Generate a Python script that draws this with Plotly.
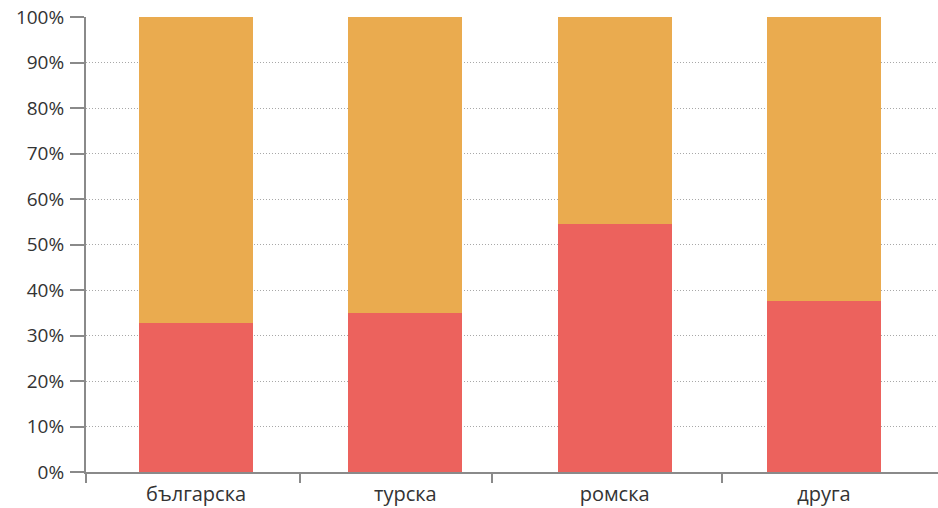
import plotly.graph_objects as go

categories = ["българска", "турска", "ромска", "друга"]
share_low = [32.7, 34.9, 54.5, 37.6]
share_high = [67.3, 65.1, 45.5, 62.4]
y_ticks = list(range(0, 101, 10))
y_labels = [f"{v}%" for v in y_ticks]

x_pos = list(range(len(categories)))
x_range = [-0.526, 3.545]
# tick marks between category labels
boundary_ticks = [-0.526, 0.497, 1.414, 2.513]

fig = go.Figure()
fig.add_bar(x=x_pos, y=share_low, marker_color="#EC625D", width=0.545,
            marker_line_width=0, hoverinfo="skip")
fig.add_bar(x=x_pos, y=share_high, marker_color="#EAAB4F", width=0.545,
            marker_line_width=0, hoverinfo="skip")

label_font = "Open Sans, Roboto, sans-serif"

fig.update_layout(
    barmode="stack",
    width=938, height=508,
    margin=dict(l=86, r=0, t=17, b=36),
    paper_bgcolor="white", plot_bgcolor="white",
    showlegend=False,
    xaxis=dict(
        range=x_range, tickvals=x_pos, ticktext=categories,
        ticks="", showgrid=False, zeroline=False, automargin=False,
        showline=True, linecolor="#8a8a8a", linewidth=2,
        ticklabelstandoff=3,
        tickfont=dict(family=label_font, size=20, color="#333333"),
        minor=dict(tickvals=boundary_ticks, ticks="outside", ticklen=9,
                   tickwidth=2, tickcolor="#8a8a8a", showgrid=False),
    ),
    yaxis=dict(
        range=[0, 100], tickvals=y_ticks, ticktext=y_labels,
        ticks="outside", ticklen=14, tickwidth=2, tickcolor="#8a8a8a",
        showline=True, linecolor="#8a8a8a", linewidth=2,
        showgrid=True, gridcolor="#a8a8a8", gridwidth=1, griddash="1px,2px",
        zeroline=False, ticklabelstandoff=2, automargin=False,
        tickfont=dict(family=label_font, size=19, color="#333333"),
    ),
)

fig.write_html("out.html")
